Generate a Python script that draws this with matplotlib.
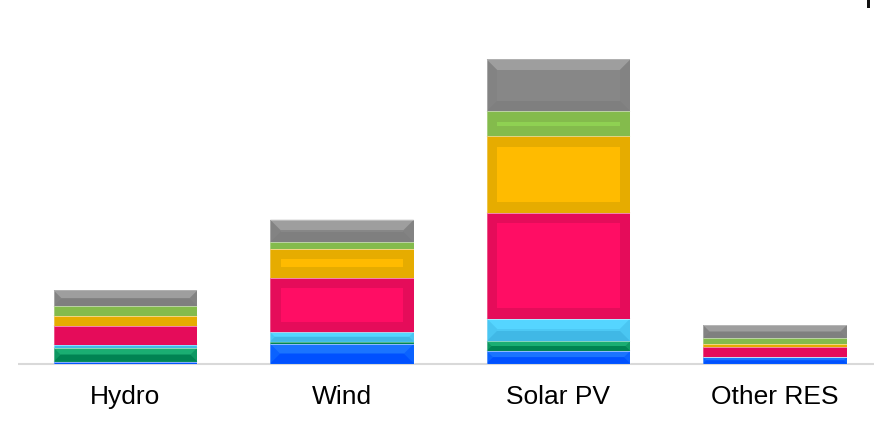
import matplotlib
matplotlib.use("Agg")
import matplotlib.pyplot as plt
from matplotlib.patches import Polygon, Rectangle

plt.rcParams["font.family"] = ["Liberation Sans", "DejaVu Sans"]

# values (bar heights, bottom to top)
categories = ["Hydro", "Wind", "Solar PV", "Other RES"]
series_names = ["s1", "s2", "s3", "s4", "s5", "s6", "s7"]
blue = [2.0, 19.7, 12.6, 6.3]
dark_green = [13.7, 2.3, 9.7, 0.3]
cyan = [3.3, 9.3, 22.7, 0.3]
red = [18.7, 54.7, 105.6, 9.4]
yellow = [10.0, 28.7, 76.7, 3.3]
light_green = [9.6, 6.6, 25.0, 5.7]
gray = [15.7, 22.4, 51.7, 13.0]
series = [blue, dark_green, cyan, red, yellow, light_green, gray]

# bevel colours: (top, sides, bottom, face)
styles = [
    ("#1a74ff", "#0a62ff", "#0050ff", "#0a60ff"),
    ("#1aae72", "#0d9862", "#008352", "#0b9a62"),
    ("#55d5ff", "#4ac6f2", "#40b8e6", "#4cc8f4"),
    ("#e50c5a", "#e50c5a", "#e50c5a", "#ff0d64"),
    ("#e6ac00", "#e6ac00", "#e6ac00", "#ffbb00"),
    ("#84bb4c", "#84bb4c", "#84bb4c", "#8fd152"),
    ("#9e9e9e", "#838383", "#7f7f7f", "#878787"),
]

W, H = 874, 423
fig = plt.figure(figsize=(W / 100, H / 100), dpi=100)
base_px = 363.5
ax = fig.add_axes([18 / W, (H - base_px) / H, 1 - 18 / W, base_px / H])
step_px = 216.5
ax.set_xlim(-(125.5 - 18) / step_px, 3 + (874 - 775) / step_px)
ax.set_ylim(0, base_px)
ax.axis("off")

bar_w = 143.5 / step_px
bevel = 10.5


def bevel_box(x0, y0, w, h, cols):
    top, side, bottom, face = cols
    dx = min(bevel, h / 2) / step_px
    dy = min(bevel, h / 2)
    x1, y1 = x0 + w, y0 + h
    ax.add_patch(Rectangle((x0, y0), w, h, facecolor=side, edgecolor="none"))
    ax.add_patch(Polygon([(x0, y1), (x1, y1), (x1 - dx, y1 - dy), (x0 + dx, y1 - dy)],
                         closed=True, facecolor=top, edgecolor="none"))
    ax.add_patch(Polygon([(x0, y0), (x1, y0), (x1 - dx, y0 + dy), (x0 + dx, y0 + dy)],
                         closed=True, facecolor=bottom, edgecolor="none"))
    if h > 2 * bevel:
        ax.add_patch(Rectangle((x0 + dx, y0 + dy), w - 2 * dx, h - 2 * dy,
                               facecolor=face, edgecolor="none"))
    ax.add_patch(Rectangle((x0, y0), w, h, facecolor="none",
                           edgecolor=(1, 1, 1, 0.35), linewidth=0.6))


for i, cat in enumerate(categories):
    bottom = 0.0
    for vals, cols in zip(series, styles):
        v = vals[i]
        if v > 0:
            bevel_box(i - bar_w / 2, bottom, bar_w, v, cols)
        bottom += v
    ax.text(i, -40.5, cat, ha="center", va="baseline", fontsize=19,
            color="#000000", clip_on=False)

ax.plot([ax.get_xlim()[0], ax.get_xlim()[1]], [0, 0], color="#d9d9d9",
        linewidth=1.5, solid_capstyle="butt", clip_on=False, zorder=0)

# small dark mark at the top right corner
fig.add_artist(Rectangle((867 / W, 1 - 8 / H), 3 / W, 8 / H,
                         transform=fig.transFigure, facecolor="#111111",
                         edgecolor="none"))

fig.savefig("out.png", dpi=100)
